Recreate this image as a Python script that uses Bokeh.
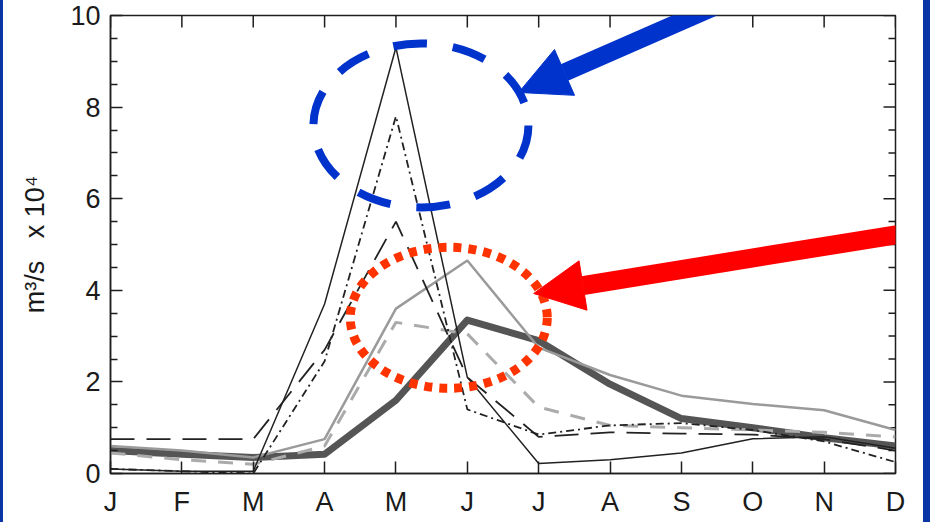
from bokeh.plotting import figure
from bokeh.models import Range1d, FixedTicker, LinearAxis, Arrow, NormalHead, Spacer, Row
from bokeh.embed import file_html
from bokeh.resources import INLINE

# ---- data ----
months = ["J", "F", "M", "A", "M", "J", "J", "A", "S", "O", "N", "D"]
month_pos = list(range(12))
y_ticks = [0, 2, 4, 6, 8, 10]
y_minor = [0.5, 1, 1.5, 2.5, 3, 3.5, 4.5, 5, 5.5, 6.5, 7, 7.5, 8.5, 9, 9.5]

thin_solid = [0.10, 0.05, 0.05, 3.70, 9.30, 2.10, 0.22, 0.30, 0.45, 0.76, 0.80, 0.55]
dash_dot   = [0.10, 0.05, 0.00, 2.45, 7.80, 1.40, 0.85, 1.05, 1.10, 0.95, 0.70, 0.25]
long_dash  = [0.75, 0.75, 0.75, 2.70, 5.50, 2.10, 0.80, 0.90, 0.87, 0.85, 0.75, 0.50]
gray_solid = [0.60, 0.50, 0.35, 0.75, 3.60, 4.65, 2.75, 2.15, 1.70, 1.52, 1.38, 0.95]
gray_dash  = [0.45, 0.30, 0.20, 0.60, 3.30, 3.05, 1.45, 1.05, 1.00, 0.95, 0.90, 0.80]
dark_thick = [0.50, 0.42, 0.35, 0.42, 1.60, 3.35, 2.90, 1.95, 1.20, 1.00, 0.78, 0.60]

# annotation shapes (data-space centres, pixel sizes)
blue_ellipse = dict(x=4.35, y=7.6, w=215, h=164)
red_ellipse = dict(x=4.74, y=3.40, w=197, h=141)
blue_arrow = dict(x0=9.11, y0=10.63, x1=5.72, y1=8.32)
red_arrow = dict(x0=11.63, y0=5.37, x1=5.93, y1=3.93)

FONT = "Liberation Sans"
INK = "#1e1e1e"
FRAME_BLUE = "#0a35a5"

x_lo, x_hi = 0, 11
y_lo, y_hi = 0, 10

p = figure(width=920, height=522, output_backend="svg", toolbar_location=None,
           x_range=Range1d(x_lo, x_hi), y_range=Range1d(y_lo, y_hi),
           min_border_left=107, min_border_right=28, min_border_top=15,
           min_border_bottom=49, x_axis_location=None, y_axis_location=None)
p.grid.visible = False
p.outline_line_color = INK
p.outline_line_width = 1.5
p.background_fill_color = "white"
p.border_fill_color = "white"

xt = FixedTicker(ticks=month_pos)
yt = FixedTicker(ticks=y_ticks, minor_ticks=y_minor)


def style(ax):
    ax.axis_line_color = INK
    ax.axis_line_width = 1.5
    ax.major_tick_line_color = INK
    ax.major_tick_line_width = 1.5
    ax.minor_tick_line_color = INK
    ax.minor_tick_line_width = 1.5
    ax.major_tick_in = 12
    ax.major_tick_out = 0
    ax.minor_tick_in = 7
    ax.minor_tick_out = 0
    ax.major_label_text_font = FONT
    ax.major_label_text_font_size = "27px"
    ax.major_label_text_color = "#1a1a1a"


xb = LinearAxis(ticker=xt, major_label_overrides={i: m for i, m in zip(month_pos, months)})
style(xb)
xb.major_label_standoff = 13
p.add_layout(xb, "below")

NB = "\u00a0"
yl = LinearAxis(ticker=yt, axis_label="m\u00b3/s" + NB * 3 + "x" + NB + "10\u2074")
style(yl)
yl.major_label_standoff = 10
yl.axis_label_text_font = FONT
yl.axis_label_text_font_size = "27px"
yl.axis_label_text_font_style = "normal"
yl.axis_label_text_color = "#1a1a1a"
yl.axis_label_standoff = 17
p.add_layout(yl, "left")

# mirrored inward ticks on the top and right frame edges
p.ray(x=month_pos, y=[y_hi] * len(month_pos), length=12, length_units="screen",
      angle=-90, angle_units="deg", line_color=INK, line_width=1.5)
p.ray(x=[x_hi] * len(y_ticks), y=y_ticks, length=12, length_units="screen",
      angle=180, angle_units="deg", line_color=INK, line_width=1.5)
p.ray(x=[x_hi] * len(y_minor), y=y_minor, length=7, length_units="screen",
      angle=180, angle_units="deg", line_color=INK, line_width=1.5)

# ---- series ----
p.line(month_pos, dark_thick, line_color="#555555", line_width=7, line_join="round")
p.line(month_pos, gray_solid, line_color="#9a9a9a", line_width=2.5)
p.line(month_pos, gray_dash, line_color="#ababab", line_width=3, line_dash="15 12")
p.line(month_pos, long_dash, line_color="#222222", line_width=1.8, line_dash="24 12")
p.line(month_pos, dash_dot, line_color="#222222", line_width=1.8, line_dash="8 4 2 4")
p.line(month_pos, thin_solid, line_color="#222222", line_width=1.5)

# ---- annotations ----
p.ellipse(x=[blue_ellipse["x"]], y=[blue_ellipse["y"]], width=blue_ellipse["w"],
          height=blue_ellipse["h"], width_units="screen", height_units="screen",
          fill_color=None, line_color="#0033cc", line_width=8, line_dash="34 26")
p.ellipse(x=[red_ellipse["x"]], y=[red_ellipse["y"]], width=red_ellipse["w"],
          height=red_ellipse["h"], width_units="screen", height_units="screen",
          fill_color=None, line_color="#ff3300", line_width=9, line_dash="8 7")

p.add_layout(Arrow(x_start=blue_arrow["x0"], y_start=blue_arrow["y0"],
                   x_end=blue_arrow["x1"], y_end=blue_arrow["y1"],
                   line_color="#0033cc", line_width=18,
                   end=NormalHead(size=50, fill_color="#0033cc", line_color="#0033cc")))
p.add_layout(Arrow(x_start=red_arrow["x0"], y_start=red_arrow["y0"],
                   x_end=red_arrow["x1"], y_end=red_arrow["y1"],
                   line_color="#ff0000", line_width=19,
                   end=NormalHead(size=50, fill_color="#ff0000", line_color="#ff0000")))

left_bar = Spacer(width=3, height=522, styles={"background-color": FRAME_BLUE})
right_bar = Spacer(width=7, height=522, styles={"background-color": FRAME_BLUE})
page = Row(children=[left_bar, p, right_bar], spacing=0)

open("out.html", "w").write(file_html(page, INLINE))
